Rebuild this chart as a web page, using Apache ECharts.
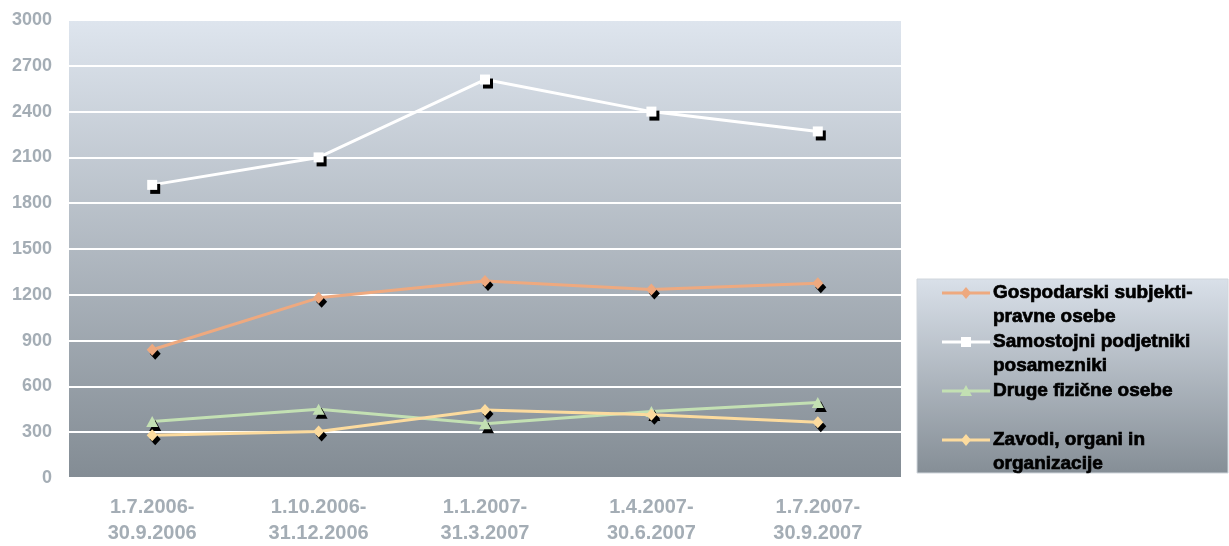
<!DOCTYPE html>
<html><head><meta charset="utf-8">
<script src="https://cdn.jsdelivr.net/npm/echarts/dist/echarts.min.js"></script>
<style>html,body{margin:0;padding:0;background:#fff}#c{width:1229px;height:546px}</style>
</head><body><div id="c"></div>
<script>
const categories = ['1.7.2006-\n30.9.2006', '1.10.2006-\n31.12.2006', '1.1.2007-\n31.3.2007', '1.4.2007-\n30.6.2007', '1.7.2007-\n30.9.2007'];
const seriesNames = ['Gospodarski subjekti-\npravne osebe', 'Samostojni podjetniki\nposamezniki', 'Druge fizične osebe', 'Zavodi, organi in\norganizacije'];
const gospodarski = [840, 1180, 1290, 1235, 1275];
const samostojni = [1920, 2100, 2610, 2400, 2270];
const druge = [370, 450, 355, 435, 495];
const zavodi = [280, 305, 445, 415, 365];
const yTicks = {min: 0, max: 3000, interval: 300};

const seriesData = [gospodarski, samostojni, druge, zavodi];
const colors = ['#eea97f', '#ffffff', '#c3e0b3', '#fcdb9e'];
const symbols = ['diamond', 'rect', 'triangle', 'diamond'];
const symbolSizes = [[11, 12], 10, [12, 11], [11, 12]];

const chart = echarts.init(document.getElementById('c'), null, {renderer: 'canvas'});
const grad = (a, b) => new echarts.graphic.LinearGradient(0, 0, 0, 1, [{offset: 0, color: a}, {offset: 1, color: b}]);
const FONT = '"Liberation Sans", Arial, sans-serif';

const series = seriesNames.map((n, i) => ({
  name: n, type: 'line', data: seriesData[i],
  symbol: symbols[i], symbolSize: symbolSizes[i],
  lineStyle: {color: colors[i], width: 3},
  itemStyle: {color: colors[i], shadowColor: '#000', shadowBlur: 0, shadowOffsetX: 3, shadowOffsetY: 4},
  emphasis: {disabled: true}, animation: false, z: 3 + i
}));

// legend drawn from the series arrays
const legendEls = [{
  type: 'rect', shape: {x: 917, y: 279, width: 311, height: 194},
  style: {fill: grad('#d9e0e9', '#858e96'), stroke: '#d0d6dc', lineWidth: 1}, z: 1
}];
seriesNames.forEach((n, i) => {
  const y = 293 + i * 49;
  legendEls.push({type: 'line', shape: {x1: 942, y1: y, x2: 990, y2: y}, style: {stroke: colors[i], lineWidth: 3}, z: 2});
  let m;
  if (symbols[i] === 'diamond') m = {type: 'polygon', shape: {points: [[966, y - 6], [971, y], [966, y + 6], [961, y]]}};
  else if (symbols[i] === 'rect') m = {type: 'rect', shape: {x: 961, y: y - 5, width: 10, height: 10}};
  else m = {type: 'polygon', shape: {points: [[966, y - 6], [972, y + 5], [960, y + 5]]}};
  m.style = {fill: colors[i]}; m.z = 3;
  legendEls.push(m);
  legendEls.push({type: 'text', x: 993, y: y - 12.5, style: {text: n, font: 'bold 19px ' + FONT, fill: '#000', stroke: '#000', lineWidth: 0.7, lineHeight: 24.5, verticalAlign: 'top'}, z: 3});
});

chart.setOption({
  animation: false,
  backgroundColor: '#fff',
  grid: {left: 69, right: 328, top: 20, bottom: 65, show: true, borderWidth: 0, backgroundColor: grad('#dee5ee', '#838c94')},
  xAxis: {
    type: 'category', data: categories, boundaryGap: true,
    axisLine: {show: false}, axisTick: {show: false},
    axisLabel: {color: '#a4adb5', fontWeight: 'bold', fontSize: 20, fontFamily: FONT, margin: 16, lineHeight: 26}
  },
  yAxis: {
    type: 'value', min: yTicks.min, max: yTicks.max, interval: yTicks.interval,
    axisLine: {show: false}, axisTick: {show: false},
    splitLine: {lineStyle: {color: '#ffffff', width: 2}},
    axisLabel: {color: '#a4adb5', fontWeight: 'bold', fontSize: 18, fontFamily: FONT, margin: 17, formatter: v => String(v)}
  },
  series: series,
  graphic: legendEls
});
</script></body></html>
